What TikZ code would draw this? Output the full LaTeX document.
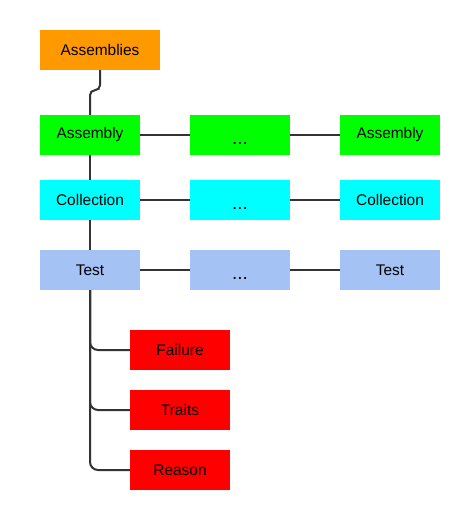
\documentclass[tikz,border=0pt]{standalone}
\usepackage{fontspec}
\setmainfont{Liberation Sans}
\begin{document}
\begin{tikzpicture}[x=1bp,y=-1bp,
  box/.style={draw=none,minimum width=100bp,minimum height=40bp,inner sep=0pt,font=\fontsize{15.5}{17}\selectfont},
  wire/.style={draw=black!80,line width=2bp},
  dots/.style={font=\fontsize{19}{22}\selectfont,text height=19bp,text depth=0bp}]
\useasboundingbox (0,0) rectangle (466,510);
\node[box,fill={rgb,255:red,255;green,153;blue,0},minimum width=120bp] (root) at (100,50) {Assemblies};
\node[box,fill={rgb,255:red,0;green,255;blue,0}] (a1) at (90,135) {Assembly};
\node[box,fill={rgb,255:red,0;green,255;blue,0},dots] (a2) at (240,135) {...};
\node[box,fill={rgb,255:red,0;green,255;blue,0}] (a3) at (390,135) {Assembly};
\node[box,fill={rgb,255:red,0;green,255;blue,255}] (c1) at (90,200) {Collection};
\node[box,fill={rgb,255:red,0;green,255;blue,255},dots] (c2) at (240,200) {...};
\node[box,fill={rgb,255:red,0;green,255;blue,255}] (c3) at (390,200) {Collection};
\node[box,fill={rgb,255:red,164;green,194;blue,244}] (t1) at (90,270) {Test};
\node[box,fill={rgb,255:red,164;green,194;blue,244},dots] (t2) at (240,270) {...};
\node[box,fill={rgb,255:red,164;green,194;blue,244}] (t3) at (390,270) {Test};
\node[box,fill={rgb,255:red,255;green,0;blue,0}] (f) at (180,350) {Failure};
\node[box,fill={rgb,255:red,255;green,0;blue,0}] (tr) at (180,410) {Traits};
\node[box,fill={rgb,255:red,255;green,0;blue,0}] (r) at (180,470) {Reason};
\draw[wire,rounded corners=5bp] (root.south) -- ++(0,20) -| (a1.north);
\draw[wire] (a1.east) -- (a2.west) (a2.east) -- (a3.west);
\draw[wire] (c1.east) -- (c2.west) (c2.east) -- (c3.west);
\draw[wire] (t1.east) -- (t2.west) (t2.east) -- (t3.west);
\draw[wire] (a1.south) -- (c1.north) (c1.south) -- (t1.north);
\draw[wire,rounded corners=8bp] (t1.south) |- (f.west);
\draw[wire,rounded corners=8bp] (t1.south) |- (tr.west);
\draw[wire,rounded corners=8bp] (t1.south) |- (r.west);
\end{tikzpicture}
\end{document}
